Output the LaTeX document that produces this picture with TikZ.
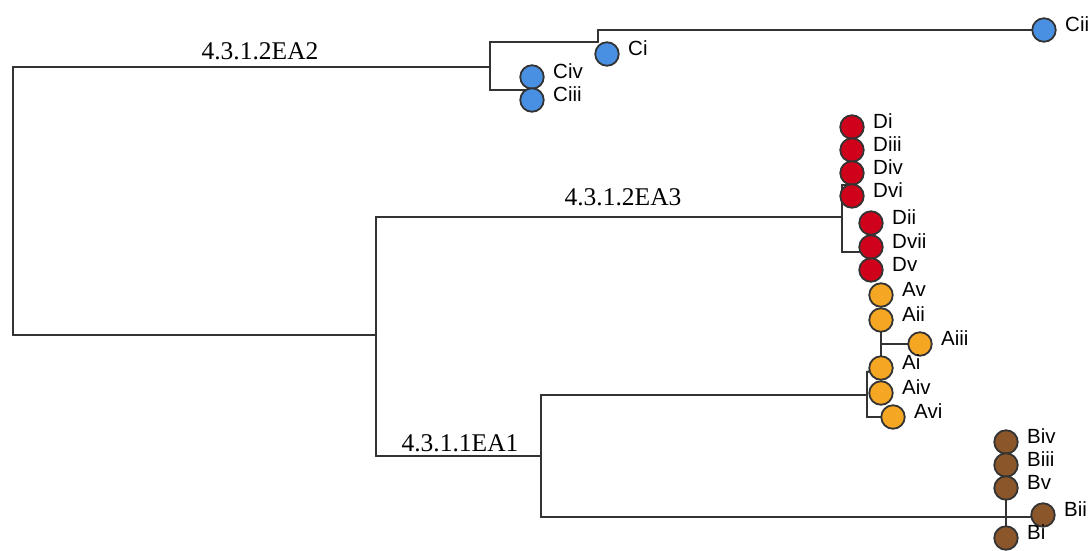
\documentclass[tikz,border=0pt]{standalone}
\usepackage{fontspec}
\setmainfont{Liberation Serif}
\newfontfamily\tipfont{Liberation Sans}
\usetikzlibrary{backgrounds}
\begin{document}
\begin{tikzpicture}[x=1pt,y=-1pt,
  edge/.style={draw=black!80,line width=2.2pt,line cap=round,line join=round},
  tip/.style={circle,draw=black!80,line width=1.8pt,minimum size=23.5pt,inner sep=0pt},
  tipC/.style={tip,fill={rgb,255:red,74;green,144;blue,226}},
  tipD/.style={tip,fill={rgb,255:red,208;green,2;blue,27}},
  tipA/.style={tip,fill={rgb,255:red,245;green,166;blue,35}},
  tipB/.style={tip,fill={rgb,255:red,139;green,87;blue,42}},
  tiplab/.style={anchor=west,inner sep=0pt,font=\tipfont\fontsize{20.5}{20.5}\selectfont},
  clade/.style={anchor=base,inner sep=0pt,font=\fontsize{25.5}{25.5}\selectfont}]
\useasboundingbox (0,0) rectangle (1091,550);
% internal node coordinates
\coordinate (r1) at (13,67);   \coordinate (r2) at (13,335);
\coordinate (c0a) at (490,42); \coordinate (c0b) at (490,90);
\coordinate (c1a) at (598,30); \coordinate (c1b) at (598,42);
\coordinate (c2) at (532,90);
\coordinate (m1) at (376,217); \coordinate (m2) at (376,456);
\coordinate (d1) at (842,185); \coordinate (d2) at (842,252);
\coordinate (d1e) at (852,185); \coordinate (d2e) at (871,252);
\coordinate (b1) at (541,395); \coordinate (b2) at (541,517);
\coordinate (a1) at (867,372); \coordinate (a2) at (867,417);
\coordinate (a3) at (881,320); \coordinate (a4) at (881,368);
\coordinate (a5) at (881,344);
\coordinate (bb1) at (1006,489); \coordinate (bb2) at (1006,538);
% tips
\node[tipC] (Ci) at (607,54) {};
\node[tipC] (Cii) at (1044,30) {};
\node[tipC] (Civ) at (532,77) {};
\node[tipC] (Ciii) at (532,100) {};
\node[tipD] (Di) at (852,127) {};
\node[tipD] (Diii) at (852,150) {};
\node[tipD] (Div) at (852,173) {};
\node[tipD] (Dvi) at (852,196) {};
\node[tipD] (Dii) at (871,223) {};
\node[tipD] (Dvii) at (871,247) {};
\node[tipD] (Dv) at (871,270) {};
\node[tipA] (Av) at (881,295) {};
\node[tipA] (Aii) at (881,320) {};
\node[tipA] (Aiii) at (920,344) {};
\node[tipA] (Ai) at (881,368) {};
\node[tipA] (Aiv) at (881,393) {};
\node[tipA] (Avi) at (893,417) {};
\node[tipB] (Biv) at (1006,442) {};
\node[tipB] (Biii) at (1006,465) {};
\node[tipB] (Bv) at (1006,488) {};
\node[tipB] (Bii) at (1043,515) {};
\node[tipB] (Bi) at (1006,538) {};
% tip labels
\foreach \n in {Ci,Cii,Civ,Ciii,Di,Diii,Div,Dvi,Dii,Dvii,Dv,Av,Aii,Aiii,Ai,Aiv,Avi,Biv,Biii,Bv,Bii,Bi}
  \node[tiplab] (L\n) at ([shift={(21,-6)}]\n.center) {\n};
% edges (behind tips)
\begin{scope}[on background layer]
\draw[edge] (r1) -- (r2);
\draw[edge] (r1) -- (r1 -| c0a);
\draw[edge] (c0a) -- (c0b);
\draw[edge] (c0a) -- (c1b);
\draw[edge] (c1a) -- (c1b);
\draw[edge] (c1a) -- (Cii.center);
\draw[edge] (c0b) -- (c2);
\draw[edge] (r2) -- (r2 -| m1);
\draw[edge] (m1) -- (m2);
\draw[edge] (m1) -- (m1 -| d1);
\draw[edge] (d1) -- (d2);
\draw[edge] (d1) -- (d1e);
\draw[edge] (d2) -- (d2e);
\draw[edge] (m2) -- (m2 -| b1);
\draw[edge] (b1) -- (b2);
\draw[edge] (b1) -- (b1 -| a1);
\draw[edge] (a1) -- (a2);
\draw[edge] (a1) -- (a4);
\draw[edge] (a3) -- (a4);
\draw[edge] (a5) -- (Aiii.center);
\draw[edge] (a2) -- (a2 -| Avi);
\draw[edge] (b2) -- (b2 -| Bii);
\draw[edge] (bb1) -- (bb2);
\end{scope}
% clade labels
\node[clade] (EA2) at (260,59) {4.3.1.2EA2};
\node[clade] (EA3) at (623,205) {4.3.1.2EA3};
\node[clade] (EA1) at (460,451) {4.3.1.1EA1};
\end{tikzpicture}
\end{document}
